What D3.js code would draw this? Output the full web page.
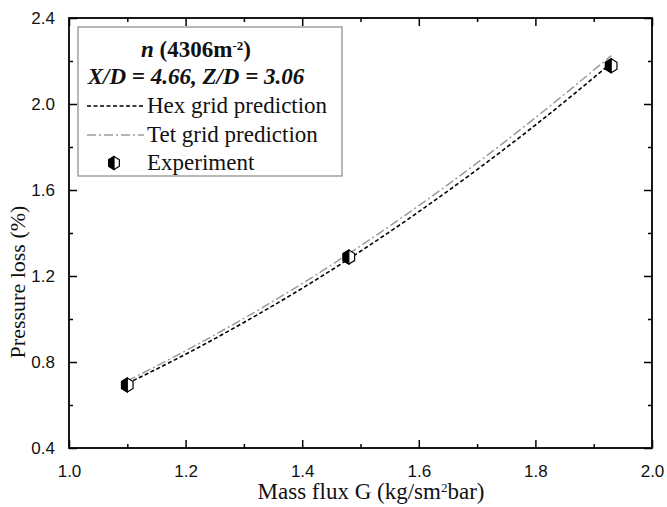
<!DOCTYPE html>
<html>
<head>
<meta charset="utf-8">
<script src="https://cdn.jsdelivr.net/npm/d3@7"></script>
<style>
  body { margin: 0; background: #fff; }
  svg { display: block; }
</style>
</head>
<body>
<svg id="chart" width="667" height="507"></svg>
<script>
// Data
const massFlux = [1.1, 1.2, 1.3, 1.4, 1.5, 1.6, 1.7, 1.8, 1.93];
const hexPrediction = [0.70, 0.836, 0.984, 1.143, 1.315, 1.499, 1.695, 1.902, 2.19];
const tetPrediction = [0.712, 0.852, 1.003, 1.165, 1.340, 1.527, 1.726, 1.936, 2.225];
const expFlux = [1.1, 1.48, 1.93];
const expLoss = [0.693, 1.288, 2.178];
const xTicks = [1.0, 1.2, 1.4, 1.6, 1.8, 2.0];
const yTicks = [0.4, 0.8, 1.2, 1.6, 2.0, 2.4];

const svg = d3.select('#chart');
const margins = { left: 69, top: 18, right: 15, bottom: 59 };
const width = 667, height = 507;
const innerWidth = width - margins.left - margins.right;
const innerHeight = height - margins.top - margins.bottom;

const x = d3.scaleLinear().domain([1.0, 2.0]).range([0, innerWidth]);
const y = d3.scaleLinear().domain([0.4, 2.4]).range([innerHeight, 0]);

const plot = svg.append('g')
  .attr('transform', `translate(${margins.left}, ${margins.top})`);

const serif = '"Liberation Serif", "Times New Roman", serif';
const sans = '"Liberation Sans", Arial, sans-serif';

// Axes: major + minor ticks, all pointing inward
function styleAxis(g) {
  g.select('.domain').remove();
  g.selectAll('.tick line').attr('stroke', '#000').attr('stroke-width', 1.5);
  g.selectAll('.tick text').attr('font-family', sans).attr('font-size', 17).attr('fill', '#111');
}
function noLabels(g) {
  g.selectAll('.tick text').remove();
}
const xMinor = d3.range(1.1, 2.0, 0.2);
const yMinor = d3.range(0.6, 2.4, 0.4);

plot.append('g').attr('transform', `translate(0, ${innerHeight})`)
  .call(d3.axisBottom(x).tickValues(xTicks).tickFormat(d3.format('.1f')).tickSizeInner(-8).tickSizeOuter(0).tickPadding(17))
  .call(styleAxis);
plot.append('g').attr('transform', `translate(0, ${innerHeight})`)
  .call(d3.axisBottom(x).tickValues(xMinor).tickSizeInner(-4).tickSizeOuter(0))
  .call(styleAxis).call(noLabels);
plot.append('g')
  .call(d3.axisLeft(y).tickValues(yTicks).tickFormat(d3.format('.1f')).tickSizeInner(-8).tickSizeOuter(0).tickPadding(14))
  .call(styleAxis);
plot.append('g')
  .call(d3.axisLeft(y).tickValues(yMinor).tickSizeInner(-4).tickSizeOuter(0))
  .call(styleAxis).call(noLabels);
plot.append('g')
  .call(d3.axisTop(x).tickValues(xTicks).tickSizeInner(-8).tickSizeOuter(0))
  .call(styleAxis).call(noLabels);
plot.append('g')
  .call(d3.axisTop(x).tickValues(xMinor).tickSizeInner(-4).tickSizeOuter(0))
  .call(styleAxis).call(noLabels);
plot.append('g').attr('transform', `translate(${innerWidth}, 0)`)
  .call(d3.axisRight(y).tickValues(yTicks).tickSizeInner(-8).tickSizeOuter(0))
  .call(styleAxis).call(noLabels);
plot.append('g').attr('transform', `translate(${innerWidth}, 0)`)
  .call(d3.axisRight(y).tickValues(yMinor).tickSizeInner(-4).tickSizeOuter(0))
  .call(styleAxis).call(noLabels);

plot.append('rect')
  .attr('width', innerWidth).attr('height', innerHeight)
  .attr('fill', 'none').attr('stroke', '#000').attr('stroke-width', 1.8);

// Lines
const line = d3.line()
  .x((d) => x(d[0]))
  .y((d) => y(d[1]))
  .curve(d3.curveMonotoneX);

plot.append('path')
  .datum(massFlux.map((v, i) => [v, tetPrediction[i]]))
  .attr('d', line)
  .attr('fill', 'none')
  .attr('stroke', '#9a9a9a')
  .attr('stroke-width', 1.5)
  .attr('stroke-dasharray', '9 3 2 3');

plot.append('path')
  .datum(massFlux.map((v, i) => [v, hexPrediction[i]]))
  .attr('d', line)
  .attr('fill', 'none')
  .attr('stroke', '#000')
  .attr('stroke-width', 1.6)
  .attr('stroke-dasharray', '4 2.5');

// Half-filled hexagon marker
function hexMarker(g, r) {
  const pts = d3.range(6).map((i) => {
    const a = Math.PI / 3 * i - Math.PI / 2;
    return [r * Math.cos(a) * 0.95, r * Math.sin(a)];
  });
  g.append('polygon')
    .attr('points', pts.map((p) => p.join(',')).join(' '))
    .attr('fill', '#fff').attr('stroke', '#000').attr('stroke-width', 1.2);
  g.append('polygon')
    .attr('points', [pts[3], pts[4], pts[5], pts[0]].map((p) => p.join(',')).join(' '))
    .attr('fill', '#000').attr('stroke', '#000').attr('stroke-width', 1.2);
}

plot.selectAll('g.exp')
  .data(expFlux.map((v, i) => [v, expLoss[i]]))
  .enter().append('g')
  .attr('class', 'exp')
  .attr('transform', (d) => `translate(${x(d[0])}, ${y(d[1])})`)
  .each(function() { hexMarker(d3.select(this), 7); });

// Axis titles
svg.append('text')
  .attr('x', 371)
  .attr('y', 499)
  .attr('text-anchor', 'middle')
  .attr('font-family', serif)
  .attr('font-size', 23)
  .attr('fill', '#111')
  .html('Mass flux G (kg/sm<tspan baseline-shift="super" font-size="13">2</tspan>bar)');

svg.append('text')
  .attr('transform', 'translate(25, 282) rotate(-90)')
  .attr('text-anchor', 'middle')
  .attr('font-family', serif)
  .attr('font-size', 22)
  .attr('fill', '#111')
  .text('Pressure loss (%)');

// Legend
const legend = svg.append('g').attr('transform', 'translate(78, 27)');
legend.append('rect')
  .attr('width', 264).attr('height', 149)
  .attr('fill', '#fff').attr('stroke', '#888').attr('stroke-width', 1.2);

legend.append('text')
  .attr('x', 118).attr('y', 30)
  .attr('text-anchor', 'middle')
  .attr('font-family', serif).attr('font-size', 23).attr('font-weight', 'bold')
  .attr('fill', '#111')
  .html('<tspan font-style="italic">n</tspan> (4306m<tspan baseline-shift="super" font-size="13">-2</tspan>)');

legend.append('text')
  .attr('x', 118).attr('y', 57)
  .attr('text-anchor', 'middle')
  .attr('font-family', serif).attr('font-size', 23).attr('font-weight', 'bold').attr('font-style', 'italic')
  .attr('fill', '#111')
  .text('X/D = 4.66, Z/D = 3.06');

const items = [
  { label: 'Hex grid prediction', stroke: '#000', dash: '4 2.5', y: 79 },
  { label: 'Tet grid prediction', stroke: '#9a9a9a', dash: '9 3 2 3', y: 108 },
];
items.forEach((it) => {
  legend.append('line')
    .attr('x1', 9).attr('x2', 66).attr('y1', it.y).attr('y2', it.y)
    .attr('stroke', it.stroke).attr('stroke-width', 1.5).attr('stroke-dasharray', it.dash);
  legend.append('text')
    .attr('x', 69).attr('y', it.y + 7)
    .attr('font-family', serif).attr('font-size', 23).attr('fill', '#111')
    .text(it.label);
});
hexMarker(legend.append('g').attr('transform', 'translate(36, 136)'), 6.5);
legend.append('text')
  .attr('x', 69).attr('y', 143)
  .attr('font-family', serif).attr('font-size', 23).attr('fill', '#111')
  .text('Experiment');
</script>
</body>
</html>
